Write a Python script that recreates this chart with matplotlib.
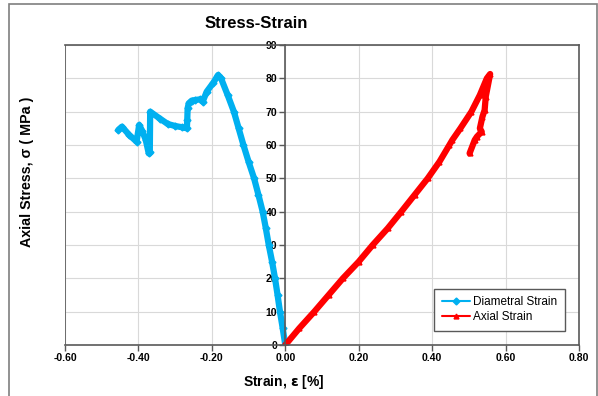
import numpy as np
import matplotlib
matplotlib.use("Agg")
import matplotlib.pyplot as plt
from matplotlib.patches import Rectangle

plt.rcParams['font.family'] = ['Liberation Sans', 'DejaVu Sans']

# diametral strain (%) vs axial stress (MPa)
dia_strain = [0, -0.007, -0.0145, -0.021, -0.028, -0.036, -0.045, -0.053, -0.0616, -0.073,
              -0.085, -0.1, -0.114, -0.127, -0.14, -0.157, -0.175, -0.183,
              -0.196, -0.214, -0.225, -0.232, -0.245, -0.255, -0.263, -0.266, -0.267, -0.268,
              -0.28, -0.30, -0.32, -0.34, -0.368, -0.369, -0.372, -0.38, -0.39, -0.398,
              -0.405, -0.425, -0.445, -0.455]
dia_stress = [0, 5, 10, 15, 20, 25, 30, 35, 40, 45,
              50, 55, 60, 65, 70, 75, 80, 81,
              78.7, 76, 73, 73.7, 73.5, 73.3, 72.5, 71, 67.5, 65,
              65.3, 65.7, 66.3, 67.8, 70, 58, 57.5, 61.5, 64.3, 66,
              61, 63, 65.5, 64.5]

# axial strain (%) vs axial stress (MPa)
axl_strain = [0, 0.038, 0.079, 0.118, 0.157, 0.2, 0.238, 0.279, 0.316, 0.352, 0.388,
              0.42, 0.447, 0.455, 0.477, 0.507, 0.53, 0.549, 0.558,
              0.546, 0.543, 0.537, 0.53, 0.535, 0.522, 0.516, 0.502]
axl_stress = [0, 5, 10, 15, 20, 25, 30, 35, 40, 45, 50,
              55, 60, 61.5, 65, 70, 75, 80, 81.3,
              74.5, 70.5, 68.5, 65, 64, 62.5, 61.5, 57.5]

x_ticks = [-0.6, -0.4, -0.2, 0.0, 0.2, 0.4, 0.6, 0.8]
y_ticks = [0, 10, 20, 30, 40, 50, 60, 70, 80, 90]

blue = '#00B0F0'
red = '#FF0000'
edge = '#595959'

fig = plt.figure(figsize=(5.98, 3.96), dpi=100)
fig.patches.append(Rectangle((9 / 598, -0.05), 588 / 598, 1 - 4 / 396 + 0.05,
                             transform=fig.transFigure, fill=False,
                             edgecolor='#7f7f7f', linewidth=1.2))
ax = fig.add_axes([65 / 598, 51 / 396, 514 / 598, 300 / 396])

# y axis sits at strain = 0
ax.spines['left'].set_position(('data', 0))

ax.plot(dia_strain, dia_stress, color=blue, lw=4.5, marker='D', ms=3.5,
        solid_joinstyle='round', solid_capstyle='round', label='Diametral Strain')
ax.plot(axl_strain, axl_stress, color=red, lw=4.5, marker='^', ms=3.5,
        solid_joinstyle='round', solid_capstyle='round', label='Axial Strain')

ax.set_xlim(-0.6, 0.8)
ax.set_ylim(0, 90)
ax.set_xticks(x_ticks)
ax.set_yticks(y_ticks)
ax.set_xticklabels([f'{v:.2f}' for v in x_ticks], fontsize=7.5, fontweight='bold')
ax.set_yticklabels([str(v) for v in y_ticks], fontsize=7.5, fontweight='bold')
ax.grid(True, color='#d9d9d9', lw=0.8)
ax.set_axisbelow(True)

for s in ax.spines.values():
    s.set_color(edge)
    s.set_linewidth(1.2)
ax.axvline(-0.6, color=edge, lw=1.2)
ax.tick_params(axis='both', direction='out', length=4, width=1, color=edge, pad=2)

fig.text(284 / 598, 1 - 382 / 396, 'Strain, $\\mathbf{\\varepsilon}$ [%]', ha='center', va='center',
         fontsize=10, fontweight='bold')
fig.text(27 / 598, 1 - 172 / 396, 'Axial Stress, σ ( MPa )', rotation=90,
         ha='center', va='center', fontsize=10.3, fontweight='bold')
fig.text(256 / 598, 1 - 24 / 396, 'Stress-Strain', ha='center', va='center',
         fontsize=12, fontweight='bold')

leg = ax.legend(loc='lower right', bbox_to_anchor=(0.972, 0.047), fontsize=8.5,
                fancybox=False, edgecolor=edge, framealpha=1, handlelength=2.4,
                handletextpad=0.2, borderpad=0.65, labelspacing=0.25, borderaxespad=0)
leg.get_frame().set_linewidth(1)
for ln in leg.get_lines():
    ln.set_linewidth(1.5)

fig.savefig('out.png', dpi=100)
